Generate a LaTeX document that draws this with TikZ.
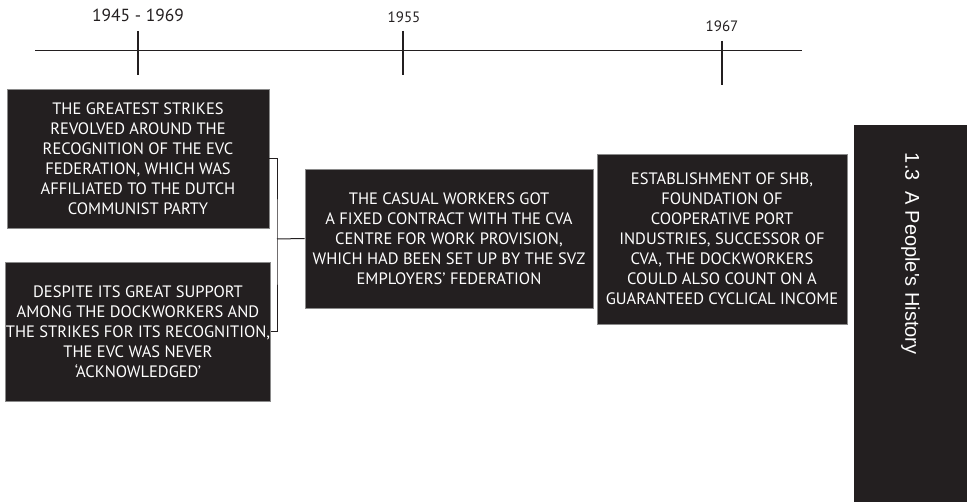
\documentclass[tikz,border=0pt]{standalone}
\usepackage{fontspec}
\setmainfont{PT Sans}
\newfontfamily\sidefont{Liberation Sans}
\usepackage{tikz}
\usetikzlibrary{positioning}
\definecolor{boxblack}{HTML}{231F20}
\definecolor{boxedge}{HTML}{8A8A8A}
\tikzset{
  eventbox/.style={draw=boxedge, line width=0.8pt, fill=boxblack, text=white, align=center,
    inner sep=0pt, font=\fontsize{16.5}{20}\selectfont},
  yearlabel/.style={text=boxblack, inner sep=0pt},
  yeartick/.style={line width=2.6pt, draw=boxblack},
}
\begin{document}
\begin{tikzpicture}[x=1pt, y=-1pt]
		\useasboundingbox (0,0) rectangle (974,502);
		% Draw timeline
		\draw[line width=1pt, boxblack] (35,50.5) -- (802,50.5);
		\draw[yeartick] (138,31) -- (138,75);
		\draw[yeartick] (403,31) -- (403,75);
		\draw[yeartick] (722,41) -- (722,85);
		% Year labels
		\node[yearlabel, font=\fontsize{17.5}{20}\selectfont] (y1) at (138,15) {1945 - 1969};
		\node[yearlabel, font=\fontsize{15}{18}\selectfont] (y2) at (404,17) {1955};
		\node[yearlabel, font=\fontsize{15}{18}\selectfont] (y3) at (722,26) {1967};
		% Event boxes
		\node[eventbox, minimum width=262, minimum height=139] (strikes) at (138,158.5)
			{THE GREATEST STRIKES\\REVOLVED AROUND THE\\RECOGNITION OF THE EVC\\FEDERATION, WHICH WAS\\AFFILIATED TO THE DUTCH\\COMMUNIST PARTY};
		\node[eventbox, minimum width=262, minimum height=139] (support) at (138,331.5)
			{DESPITE ITS GREAT SUPPORT\\AMONG THE DOCKWORKERS AND\\THE STRIKES FOR ITS RECOGNITION,\\THE EVC WAS NEVER\\`ACKNOWLEDGED'};
		\node[eventbox, minimum width=288, minimum height=139] (casual) at (449,238.5)
			{THE CASUAL WORKERS GOT\\A FIXED CONTRACT WITH THE CVA\\CENTRE FOR WORK PROVISION,\\WHICH HAD BEEN SET UP BY THE SVZ\\EMPLOYERS' FEDERATION};
		\node[eventbox, minimum width=250, minimum height=170] (shb) at (722,239)
			{ESTABLISHMENT OF SHB,\\FOUNDATION OF\\COOPERATIVE PORT\\INDUSTRIES, SUCCESSOR OF\\CVA, THE DOCKWORKERS\\COULD ALSO COUNT ON A\\GUARANTEED CYCLICAL INCOME};
		% Bracket
		\coordinate (brk) at (277,239);
		\draw[line width=1pt, boxblack] (strikes.east) -| (brk) |- (support.east);
		\draw[line width=1pt, boxblack] (brk) -- (casual.west);
		% Side tab
		\node[fill=boxblack, minimum width=113, minimum height=377, inner sep=0pt] (tab) at (910.5,313.5) {};
		\node[text=white, rotate=-90, anchor=west, inner sep=0pt, font=\sidefont\fontsize{20}{24}\selectfont]
			(title) at ([yshift=-28]tab.north) {1.3\ \ A People's History};
	\end{tikzpicture}
\end{document}
